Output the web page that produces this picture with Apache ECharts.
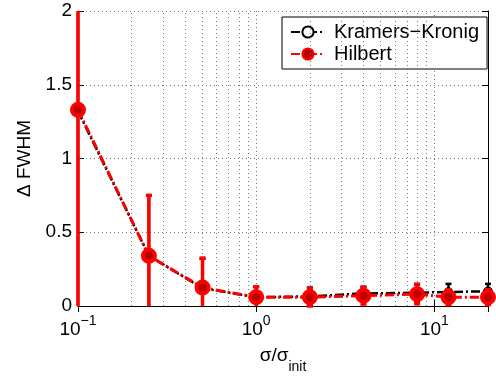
<!DOCTYPE html>
<html>
<head>
<meta charset="utf-8">
<script src="https://cdn.jsdelivr.net/npm/echarts@6/dist/echarts.min.js"></script>
<style>
  html, body { margin: 0; padding: 0; background: #fff; }
  #chart { width: 496px; height: 379px; }
</style>
</head>
<body>
<div id="chart"></div>
<script>
// sigma / sigma_init sample points
const ratios = [0.1, 0.25, 0.5, 1, 2, 4, 8, 12, 20]

// Kramers-Kronig: mean and error
const kkMean = [1.32, 0.34, 0.12, 0.06, 0.065, 0.085, 0.09, 0.095, 0.1]
const kkErr = [1.4, 0.41, 0.2, 0.07, 0.06, 0.045, 0.06, 0.055, 0.05]

// Hilbert: mean and error
const hilMean = [1.33, 0.34, 0.125, 0.06, 0.06, 0.07, 0.08, 0.06, 0.06]
const hilErr = [1.4, 0.41, 0.2, 0.07, 0.06, 0.057, 0.065, 0.05, 0.05]

// log grid lines between decades
const minorGrid = [0.2, 0.3, 0.4, 0.5, 0.6, 0.7, 0.8, 0.9, 2, 3, 4, 5, 6, 7, 8, 9]

const FONT = 'Liberation Sans'
const chart = echarts.init(document.getElementById('chart'))

const errorBars = (color, width) => (params, api) => {
  const x = api.value(0)
  const y = api.value(1)
  const e = api.value(2)
  const cs = params.coordSys
  const top = api.coord([x, y + e])
  const bot = api.coord([x, y - e])
  const yMin = cs.y
  const yMax = cs.y + cs.height
  const y1 = Math.max(top[1], yMin)
  const y2 = Math.min(bot[1], yMax)
  const children = [{
    type: 'line',
    shape: { x1: top[0], y1: y1, x2: top[0], y2: y2 },
    style: { stroke: color, lineWidth: width }
  }]
  if (top[1] >= yMin) {
    children.push({ type: 'line', shape: { x1: top[0] - 3, y1: top[1], x2: top[0] + 3, y2: top[1] }, style: { stroke: color, lineWidth: width } })
  }
  if (bot[1] <= yMax) {
    children.push({ type: 'line', shape: { x1: bot[0] - 3, y1: bot[1], x2: bot[0] + 3, y2: bot[1] }, style: { stroke: color, lineWidth: width } })
  }
  return { type: 'group', children }
}

const decadeLabel = v => {
  const p = Math.round(Math.log10(v))
  if (Math.abs(Math.log10(v) - p) > 1e-6) return ''
  return '{b|10}{e|' + (p < 0 ? '\u2212' + (-p) : p) + '}'
}

chart.setOption({
  animation: false,
  textStyle: { fontFamily: FONT, color: '#000' },
  grid: { left: 78, right: 8, top: 11, bottom: 63 },
  legend: {
    data: ['Kramers\u2212Kronig', 'Hilbert'],
    orient: 'vertical',
    left: 282,
    top: 17,
    padding: [5, 8, 5, 8],
    itemGap: 2,
    itemWidth: 34,
    itemHeight: 14,
    backgroundColor: '#fff',
    borderColor: '#000',
    borderWidth: 1,
    textStyle: { fontSize: 20, color: '#000', fontFamily: FONT, padding: [0, 0, 0, 4] }
  },
  xAxis: [{
    type: 'log',
    logBase: 10,
    min: 0.1,
    max: 20,
    name: '{m|\u03c3/\u03c3}{s|init}',
    nameLocation: 'middle',
    nameGap: 32,
    nameTextStyle: {
      rich: {
        m: { fontSize: 19, fontFamily: FONT, color: '#000' },
        s: { fontSize: 14, fontFamily: FONT, color: '#000', padding: [22, 0, 0, 0] }
      }
    },
    axisLine: { lineStyle: { color: '#000', width: 1 } },
    axisTick: { inside: true, length: 6, lineStyle: { color: '#000' } },
    axisLabel: {
      margin: 8,
      formatter: decadeLabel,
      rich: {
        b: { fontSize: 19, fontFamily: FONT, color: '#000' },
        e: { fontSize: 14, fontFamily: FONT, color: '#000', padding: [0, 0, 18, 0] }
      }
    },
    splitLine: { show: true, lineStyle: { color: '#777', type: [1, 3] } }
  }, {
    type: 'log',
    logBase: 10,
    min: 0.1,
    max: 20,
    position: 'top',
    axisLine: { lineStyle: { color: '#000', width: 1 } },
    axisTick: { inside: true, length: 6, lineStyle: { color: '#000' } },
    axisLabel: { show: false },
    splitLine: { show: false }
  }],
  yAxis: [{
    type: 'value',
    min: 0,
    max: 2,
    interval: 0.5,
    name: '\u0394 FWHM',
    nameLocation: 'middle',
    nameGap: 44,
    nameTextStyle: { fontSize: 19, fontFamily: FONT, color: '#000' },
    axisLine: { show: true, lineStyle: { color: '#000', width: 1 } },
    axisTick: { show: true, inside: true, length: 6, lineStyle: { color: '#000' } },
    axisLabel: { fontSize: 19, color: '#000', margin: 6 },
    splitLine: { show: true, lineStyle: { color: '#777', type: [1, 3] } }
  }, {
    type: 'value',
    min: 0,
    max: 2,
    interval: 0.5,
    position: 'right',
    axisLine: { show: true, lineStyle: { color: '#000', width: 1 } },
    axisTick: { show: true, inside: true, length: 6, lineStyle: { color: '#000' } },
    axisLabel: { show: false },
    splitLine: { show: false }
  }],
  series: [
    {
      name: 'grid',
      type: 'line',
      data: [],
      silent: true,
      markLine: {
        silent: true,
        symbol: 'none',
        label: { show: false },
        lineStyle: { color: '#777', type: [1, 3], width: 1 },
        data: minorGrid.map(v => ({ xAxis: v }))
      }
    },
    {
      name: 'kkErr',
      type: 'custom',
      renderItem: errorBars('#000', 2.5),
      data: ratios.map((x, i) => [x, kkMean[i], kkErr[i]]),
      z: 3
    },
    {
      name: 'Kramers\u2212Kronig',
      type: 'line',
      data: ratios.map((x, i) => [x, kkMean[i]]),
      symbol: 'circle',
      symbolSize: 8,
      itemStyle: { color: '#fff', borderColor: '#000', borderWidth: 1.5 },
      lineStyle: { color: '#000', width: 2.5, type: [9, 3, 2, 3] },
      z: 4
    },
    {
      name: 'hilErr',
      type: 'custom',
      renderItem: errorBars('#f00', 3.5),
      data: ratios.map((x, i) => [x, hilMean[i], hilErr[i]]),
      z: 5
    },
    {
      name: 'Hilbert',
      type: 'line',
      data: ratios.map((x, i) => [x, hilMean[i]]),
      symbol: 'circle',
      symbolSize: 12,
      itemStyle: { color: '#b00', borderColor: '#f00', borderWidth: 4 },
      lineStyle: { color: '#f00', width: 3, type: [9, 3, 2, 3] },
      z: 6
    }
  ]
})
</script>
</body>
</html>
